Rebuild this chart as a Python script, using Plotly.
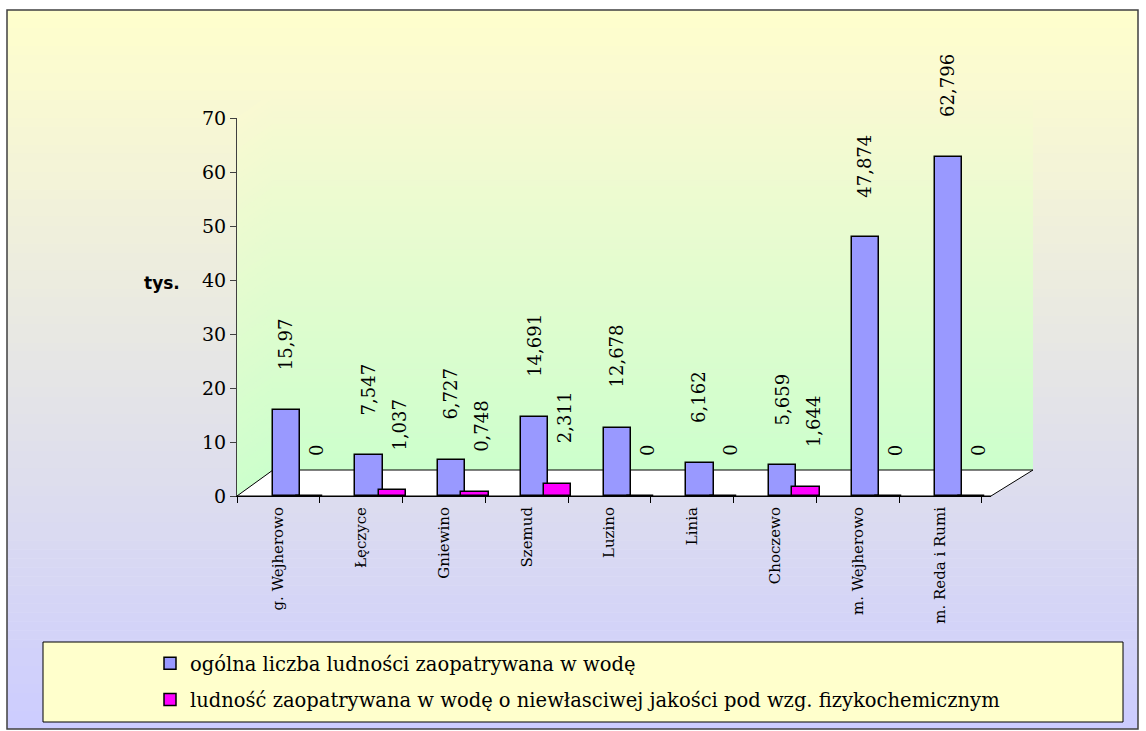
import plotly.graph_objects as go

categories = ["g. Wejherowo", "Łęczyce", "Gniewino", "Szemud", "Luzino",
              "Linia", "Choczewo", "m. Wejherowo", "m. Reda i Rumi"]
total_pop = [15.97, 7.547, 6.727, 14.691, 12.678, 6.162, 5.659, 47.874, 62.796]
bad_quality_pop = [0, 1.037, 0.748, 2.311, 0, 0, 1.644, 0, 0]
series_names = ["ogólna liczba ludności zaopatrywana w wodę",
                "ludność zaopatrywana w wodę o niewłasciwej jakości pod wzg. fizykochemicznym"]
y_ticks = [0, 10, 20, 30, 40, 50, 60, 70]

W, H = 1146, 731
L, R, T, B = 237, 991, 118, 496  # plot area pixel bounds


def px(x):
    return (x - L) / (R - L)


def py(y):
    return (B - y) / (B - T)


def lerp(c1, c2, t):
    return "rgb(%d,%d,%d)" % tuple(round(a + (b - a) * t) for a, b in zip(c1, c2))


shapes = []
# outer background gradient
top_c, bot_c = (255, 255, 204), (204, 204, 255)
y0, y1 = 10, 729
n = 80
for i in range(n):
    ya = y0 + (y1 - y0) * i / n
    yb = y0 + (y1 - y0) * (i + 1) / n + 0.6
    shapes.append(dict(type="rect", xref="paper", yref="paper", layer="below",
                       x0=px(7), x1=px(1138), y0=py(ya), y1=py(min(yb, y1)),
                       fillcolor=lerp(top_c, bot_c, (i + 0.5) / n), line_width=0))
# frame
shapes.append(dict(type="rect", xref="paper", yref="paper", layer="below",
                   x0=px(7), x1=px(1138), y0=py(10), y1=py(729),
                   fillcolor="rgba(0,0,0,0)", line=dict(color="#404040", width=1.5)))
# walls gradient (back wall + side wall)
wall_top, wall_bot = (249, 249, 210), (204, 255, 204)
wt, wb = 92, 470
n = 60
dx, dy = 36, 26
for i in range(n):
    ya = wt + (wb - wt) * i / n
    yb = min(wt + (wb - wt) * (i + 1) / n + 0.6, wb)
    col = lerp(wall_top, wall_bot, (i + 0.5) / n)
    shapes.append(dict(type="rect", xref="paper", yref="paper", layer="below",
                       x0=px(L + dx), x1=px(R + 42), y0=py(ya), y1=py(yb),
                       fillcolor=col, line_width=0))
    path = "M %f %f L %f %f L %f %f L %f %f Z" % (
        px(L), py(ya + dy), px(L + dx), py(ya), px(L + dx), py(yb), px(L), py(yb + dy))
    shapes.append(dict(type="path", xref="paper", yref="paper", layer="below",
                       path=path, fillcolor=col, line_width=0))
# floor
floor = "M %f %f L %f %f L %f %f L %f %f Z" % (
    px(L), py(B), px(R), py(B), px(R + 42), py(B - dy), px(L + dx), py(B - dy))
shapes.append(dict(type="path", xref="paper", yref="paper", layer="below",
                   path=floor, fillcolor="white", line=dict(color="black", width=1)))
# legend box
shapes.append(dict(type="rect", xref="paper", yref="paper", layer="below",
                   x0=px(43), x1=px(1123), y0=py(642), y1=py(722),
                   fillcolor="#FFFFCC", line=dict(color="black", width=1)))

fig = go.Figure()
fig.add_trace(go.Bar(x=categories, y=total_pop, name=series_names[0],
                     offset=-0.07, width=0.33, legendgroup="a",
                     marker=dict(color="#9999FF", line=dict(color="black", width=1.5))))
fig.add_trace(go.Bar(x=categories, y=bad_quality_pop, name=series_names[1],
                     offset=0.21, width=0.33, legendgroup="b",
                     marker=dict(color="#FF00FF", line=dict(color="black", width=1.5))))

lab_font = dict(family="DejaVu Serif", size=18, color="black")
annotations = []
for c, v in zip(categories, total_pop):
    annotations.append(dict(x=c, y=v, text=f"{v:g}".replace(".", ","), textangle=-90,
                            showarrow=False, xanchor="center", yanchor="bottom",
                            xshift=7, yshift=38, font=lab_font))
for c, v in zip(categories, bad_quality_pop):
    annotations.append(dict(x=c, y=v, text=f"{v:g}".replace(".", ","), textangle=-90,
                            showarrow=False, xanchor="center", yanchor="bottom",
                            xshift=38, yshift=38, font=lab_font))
annotations.append(dict(xref="paper", yref="paper", x=px(162), y=py(283), text="<b>tys.</b>",
                        showarrow=False, xanchor="center", yanchor="middle",
                        font=dict(family="DejaVu Sans", size=17, color="black")))

fig.update_layout(
    width=W, height=H,
    margin=dict(l=L, r=W - R, t=T, b=H - B, pad=0),
    paper_bgcolor="white", plot_bgcolor="rgba(0,0,0,0)",
    barmode="overlay", bargap=0,
    shapes=shapes, annotations=annotations,
    showlegend=True,
    legend=dict(x=px(150), y=py(644), xanchor="left", yanchor="top",
                bgcolor="rgba(0,0,0,0)", borderwidth=0,
                traceorder="grouped", tracegroupgap=8,
                font=dict(family="DejaVu Serif", size=19.5, color="black")),
    xaxis=dict(type="category", tickson="boundaries", ticks="outside", ticklen=6,
               tickcolor="black", showline=True, linecolor="black", linewidth=1,
               tickangle=-90, showgrid=False, ticklabelstandoff=4,
               tickfont=dict(family="DejaVu Serif", size=15, color="black")),
    yaxis=dict(range=[0, 70], tickvals=y_ticks, ticks="outside", ticklen=6,
               tickcolor="#404040", showline=True, linecolor="#404040", linewidth=1,
               showgrid=False, zeroline=False,
               tickfont=dict(family="DejaVu Serif", size=19, color="black")),
)

fig.write_html("out.html", config={"displayModeBar": False},
               post_script="document.body.style.margin='0';")
